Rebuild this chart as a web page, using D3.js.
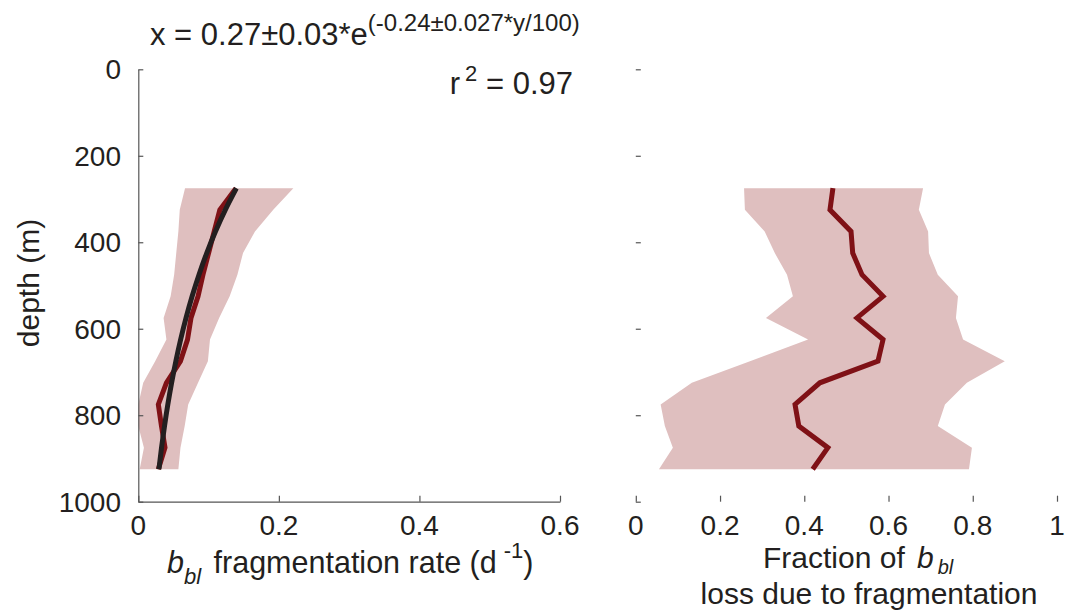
<!DOCTYPE html>
<html>
<head>
<meta charset="utf-8">
<script src="https://cdn.jsdelivr.net/npm/d3@7/dist/d3.min.js"></script>
<style>
  html, body { margin: 0; padding: 0; background: #fff; }
  svg { display: block; font-family: "Liberation Sans", Arial, Helvetica, sans-serif; }
</style>
</head>
<body>
<svg id="chart" width="1076" height="613"></svg>
<script>
// Sampling depths (m)
const depths = [275, 325, 375, 425, 475, 525, 575, 625, 675, 725, 775, 825, 875, 925];

// Fragmentation rate (d^-1): mean profile and uncertainty envelope
const rateMean = [0.139, 0.116, 0.108, 0.100, 0.092, 0.085, 0.075, 0.070, 0.060, 0.040, 0.0285, 0.033, 0.038, 0.0285];
const rateLow  = [0.0665, 0.059, 0.057, 0.054, 0.051, 0.046, 0.036, 0.040, 0.024, 0.007, 0.0, 0.0, 0.008, 0.002];
const rateHigh = [0.2206, 0.192, 0.166, 0.149, 0.141, 0.130, 0.115, 0.102, 0.099, 0.085, 0.071, 0.066, 0.060, 0.057];

// Exponential fit x = A * exp(k * y / 100), parameters as given in the title
const fitA = 0.27;
const fitK = -0.24;

// Fraction of b_bl loss due to fragmentation: mean and envelope
const fracMean = [0.468, 0.461, 0.511, 0.515, 0.537, 0.587, 0.525, 0.587, 0.575, 0.437, 0.378, 0.387, 0.456, 0.420];
const fracLow  = [0.257, 0.259, 0.306, 0.330, 0.359, 0.373, 0.309, 0.409, 0.271, 0.133, 0.059, 0.069, 0.088, 0.055];
const fracHigh = [0.682, 0.672, 0.694, 0.696, 0.717, 0.765, 0.760, 0.777, 0.876, 0.786, 0.734, 0.717, 0.798, 0.791];

// Axis ticks
const depthTicks = [0, 200, 400, 600, 800, 1000];
const rateTicks = [0, 0.2, 0.4, 0.6];
const fracTicks = [0, 0.2, 0.4, 0.6, 0.8, 1];

const COLORS = { shade: "#dfbfbf", red: "#7f1116", black: "#231f20", axis: "#555555", text: "#231f20" };

const svg = d3.select("#chart");

const y = d3.scaleLinear().domain([0, 1000]).range([69.3, 501.7]);
const xL = d3.scaleLinear().domain([0, 0.6]).range([138.3, 560]);
const xR = d3.scaleLinear().domain([0, 1]).range([635.8, 1057]);

const fitValues = depths.map(d => fitA * Math.exp(fitK * d / 100));

function drawPanel(x, lo, hi, mean, fit) {
  const g = svg.append("g");
  const rows = depths.map((d, i) => ({ d, lo: lo[i], hi: hi[i], m: mean[i], f: fit ? fit[i] : null }));

  g.append("path")
    .datum(rows)
    .attr("fill", COLORS.shade)
    .attr("d", d3.area().y(r => y(r.d)).x0(r => x(r.lo)).x1(r => x(r.hi)));

  g.append("path")
    .datum(rows)
    .attr("fill", "none")
    .attr("stroke", COLORS.red)
    .attr("stroke-width", 5)
    .attr("stroke-linejoin", "miter")
    .attr("d", d3.line().y(r => y(r.d)).x(r => x(r.m)));

  if (fit) {
    g.append("path")
      .datum(rows)
      .attr("fill", "none")
      .attr("stroke", COLORS.black)
      .attr("stroke-width", 5)
      .attr("d", d3.line().curve(d3.curveMonotoneY).y(r => y(r.d)).x(r => x(r.f)));
  }
  return g;
}

drawPanel(xL, rateLow, rateHigh, rateMean, fitValues);
drawPanel(xR, fracLow, fracHigh, fracMean, null);

// Axes: ticks point inward, as in MATLAB
function styleAxis(sel, showDomain) {
  sel.selectAll("path.domain").attr("stroke", showDomain ? COLORS.axis : "none").attr("stroke-width", 1.2);
  sel.selectAll(".tick line").attr("stroke", COLORS.axis).attr("stroke-width", 1.2);
  sel.selectAll("text").remove();
}

const yAxisL = svg.append("g").attr("transform", `translate(${xL(0)},0)`)
  .call(d3.axisRight(y).tickValues(depthTicks).tickSize(5).tickSizeOuter(0));
styleAxis(yAxisL, true);

const xAxisL = svg.append("g").attr("transform", `translate(0,${y(1000)})`)
  .call(d3.axisTop(xL).tickValues(rateTicks).tickSize(6).tickSizeOuter(0));
styleAxis(xAxisL, true);

const yAxisR = svg.append("g").attr("transform", `translate(${xR(0)},0)`)
  .call(d3.axisRight(y).tickValues(depthTicks).tickSize(5).tickSizeOuter(0));
styleAxis(yAxisR, false);

const xAxisR = svg.append("g").attr("transform", `translate(0,${y(1000)})`)
  .call(d3.axisTop(xR).tickValues(fracTicks).tickSize(6).tickSizeOuter(0));
styleAxis(xAxisR, false);

// Tick labels
const TICK_FS = 28;
svg.append("g").selectAll("text").data(depthTicks).join("text")
  .attr("x", 121).attr("y", d => y(d)).attr("dy", "0.36em")
  .attr("text-anchor", "end").attr("font-size", TICK_FS).attr("fill", COLORS.text)
  .text(d => d);

svg.append("g").selectAll("text").data(rateTicks).join("text")
  .attr("x", d => xL(d)).attr("y", 535)
  .attr("text-anchor", "middle").attr("font-size", TICK_FS).attr("fill", COLORS.text)
  .text(d => d);

svg.append("g").selectAll("text").data(fracTicks).join("text")
  .attr("x", d => xR(d)).attr("y", 535)
  .attr("text-anchor", "middle").attr("font-size", TICK_FS).attr("fill", COLORS.text)
  .text(d => d);

// Y axis label
svg.append("text")
  .attr("transform", "translate(39,283) rotate(-90)")
  .attr("text-anchor", "middle").attr("font-size", 30).attr("fill", COLORS.text)
  .text("depth (m)");

// Fit equation
const eq = svg.append("text").attr("x", 150).attr("y", 45).attr("fill", COLORS.text).attr("font-size", 31);
eq.append("tspan").text(`x = ${fitA}±0.03*e`);
eq.append("tspan").attr("font-size", 24).attr("dy", -14).text(`(${fitK}±0.027*y/100)`);

const r2 = svg.append("text").attr("x", 573).attr("y", 94).attr("text-anchor", "end")
  .attr("fill", COLORS.text).attr("font-size", 31);
r2.append("tspan").text("r");
r2.append("tspan").attr("font-size", 22).attr("dx", 5).attr("dy", -13).text("2");
r2.append("tspan").attr("dy", 13).text(" = 0.97");

// Left x label: b_bl fragmentation rate (d^-1)
const xlabL = svg.append("text").attr("x", 167).attr("y", 573).attr("fill", COLORS.text).attr("font-size", 30.5);
xlabL.append("tspan").attr("font-style", "italic").text("b");
xlabL.append("tspan").attr("font-style", "italic").attr("font-size", 22).attr("dy", 11).text("bl");
xlabL.append("tspan").attr("dy", -11).attr("dx", 4).text(" fragmentation rate (d");
xlabL.append("tspan").attr("font-size", 22).attr("dx", 7).attr("dy", -15).text("-1");
xlabL.append("tspan").attr("dy", 15).text(")");

// Right x label, two lines
const xlabR1 = svg.append("text").attr("x", 763).attr("y", 568).attr("fill", COLORS.text).attr("font-size", 30);
xlabR1.append("tspan").text("Fraction of ");
xlabR1.append("tspan").attr("font-style", "italic").attr("dx", 4).text("b");
xlabR1.append("tspan").attr("font-style", "italic").attr("font-size", 20).attr("dx", 4).attr("dy", 6).text("bl");

svg.append("text").attr("x", 869).attr("y", 604).attr("text-anchor", "middle")
  .attr("fill", COLORS.text).attr("font-size", 30)
  .text("loss due to fragmentation");
</script>
</body>
</html>
